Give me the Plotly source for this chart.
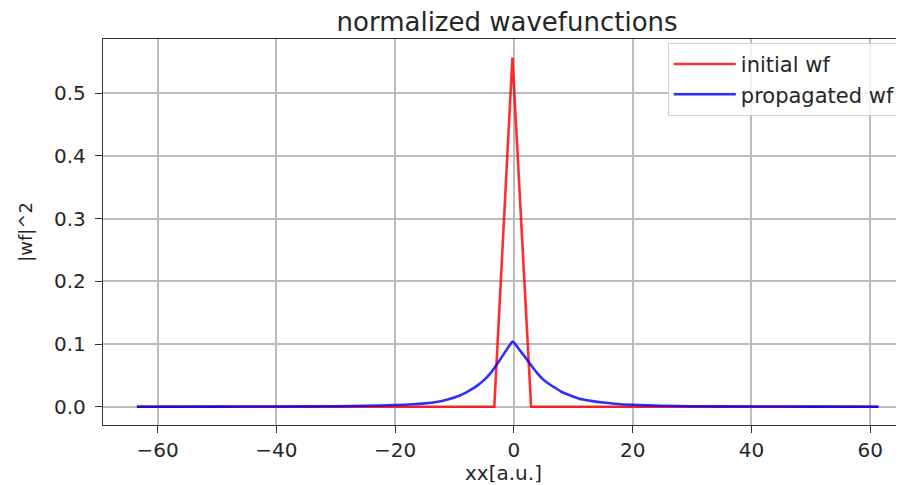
import plotly.graph_objects as go

# ---- data ----
x_initial = [-63.5, -3.3, -0.25, 2.9, 61.4]
y_initial = [0.0, 0.0, 0.557, 0.0, 0.0]

x_prop = [-63.5, -50, -40, -30, -25, -20, -17, -15, -13, -11, -9, -8, -7, -6, -5, -4, -3, -2, -1, -0.2,
          1, 2, 3, 4, 5, 6, 7, 8, 9, 11, 13, 15, 17, 20, 25, 30, 40, 50, 61.4]
y_prop = [0.0002, 0.0003, 0.0005, 0.0010, 0.0016, 0.0028, 0.0040, 0.0055, 0.0078, 0.0120, 0.0185, 0.0230,
          0.0285, 0.035, 0.043, 0.053, 0.066, 0.080, 0.094, 0.104,
          0.090, 0.078, 0.065, 0.053, 0.043, 0.036, 0.030, 0.024, 0.020, 0.013, 0.0095, 0.0068, 0.0050,
          0.0032, 0.0017, 0.0010, 0.0005, 0.0003, 0.0002]

x_ticks = [-60, -40, -20, 0, 20, 40, 60]
y_ticks = [0.0, 0.1, 0.2, 0.3, 0.4, 0.5]
series_names = ["initial wf", "propagated wf"]

FONT = "DejaVu Sans"
TXT = "#262626"

fig = go.Figure()
fig.add_trace(go.Scatter(x=x_initial, y=y_initial, mode="lines", name=series_names[0],
                         line=dict(color="rgba(255,0,0,0.82)", width=2.6)))
fig.add_trace(go.Scatter(x=x_prop, y=y_prop, mode="lines", name=series_names[1],
                         line=dict(color="rgba(0,0,255,0.82)", width=2.6, shape="spline", smoothing=0.6)))

# the page body adds an 8px offset, so the figure is 8px smaller than the window
fig.update_layout(
    width=896, height=477,
    margin=dict(l=95, r=0, t=31, b=60, autoexpand=False),
    paper_bgcolor="white", plot_bgcolor="white",
    font=dict(family=FONT, size=20, color=TXT),
    title=dict(text="normalized wavefunctions", x=0.557, xanchor="center",
               y=1 - 14 / 477, yanchor="middle", yref="container",
               font=dict(family=FONT, size=26, color=TXT)),
    showlegend=True,
    legend=dict(x=0.996, xanchor="right", y=0.99, yanchor="top",
                bgcolor="rgba(255,255,255,0.8)", bordercolor="#d0d0d0", borderwidth=1,
                font=dict(family=FONT, size=21, color=TXT), tracegroupgap=0,
                itemwidth=62, entrywidth=240, entrywidthmode="pixels"),
)

fig.update_xaxes(
    range=[-69.2, 65.7], automargin=False,
    tickvals=x_ticks, ticktext=[("\u2212" + str(abs(v))) if v < 0 else str(v) for v in x_ticks],
    showgrid=True, gridcolor="#bcbcbc", gridwidth=1.5,
    zeroline=False,
    showline=True, linecolor="#333333", linewidth=1.4, mirror=True,
    ticks="outside", ticklen=7, tickwidth=1.4, tickcolor="#333333",
    tickfont=dict(family=FONT, size=20, color=TXT),
    title=dict(text="xx[a.u.]", font=dict(family=FONT, size=20, color=TXT), standoff=10),
)
fig.update_yaxes(
    range=[-0.029, 0.5865], automargin=False,
    tickvals=y_ticks, ticktext=[f"{v:.1f}" for v in y_ticks],
    showgrid=True, gridcolor="#bcbcbc", gridwidth=1.5,
    zeroline=False,
    showline=True, linecolor="#333333", linewidth=1.4, mirror=False,
    ticks="outside", ticklen=7, tickwidth=1.4, tickcolor="#333333",
    tickfont=dict(family=FONT, size=20, color=TXT), ticklabelstandoff=5,
    title=dict(text="|wf|^2", font=dict(family=FONT, size=18, color=TXT), standoff=16),
)

fig.write_html("out.html")
